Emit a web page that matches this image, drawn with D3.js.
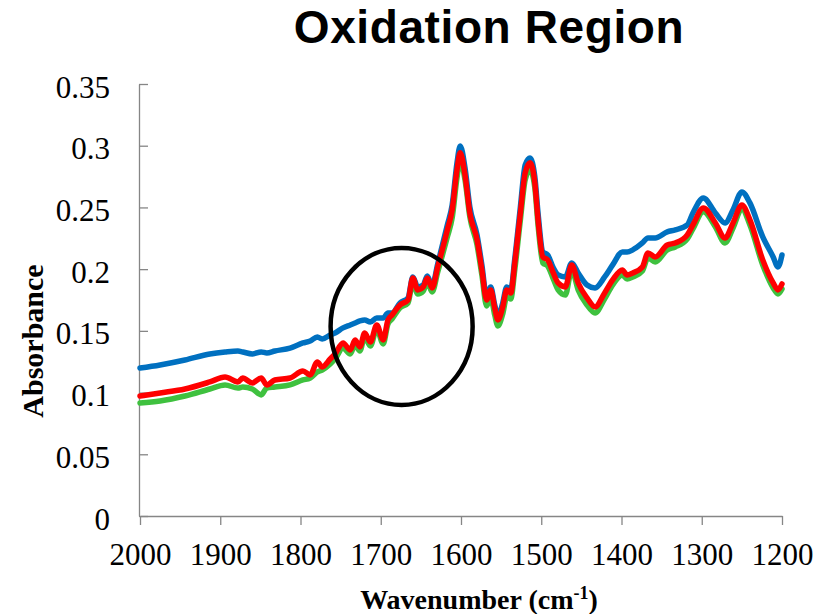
<!DOCTYPE html>
<html>
<head>
<meta charset="utf-8">
<script src="https://cdn.jsdelivr.net/npm/d3@7"></script>
<style>
  body { margin: 0; background: #fff; }
  svg { display: block; }
</style>
</head>
<body>
<div id="chart"></div>
<script>
// wavenumbers (cm-1), shared by all three spectra
const wavenumbers = [2000, 1975, 1944, 1913, 1894, 1878, 1872, 1860, 1849, 1842, 1832, 1813, 1797, 1788, 1779, 1773, 1763, 1757,
  1747, 1738, 1732, 1726, 1720, 1713, 1705, 1697, 1691, 1686, 1676, 1666, 1660, 1654, 1647, 1642, 1636, 1629,
  1617, 1611, 1605, 1601, 1595, 1589, 1580, 1574, 1568, 1563, 1558, 1554, 1548, 1543, 1538, 1533, 1526, 1520,
  1514, 1508, 1504, 1498, 1492, 1485, 1479, 1470, 1462, 1454, 1443, 1433, 1421, 1411, 1399, 1393, 1386, 1374,
  1367, 1358, 1343, 1333, 1318, 1311, 1298, 1283, 1271, 1261, 1250, 1240, 1224, 1211, 1205, 1200];

const blueSeries = [0.1199, 0.1224, 0.1264, 0.1313, 0.1329, 0.1337, 0.1329, 0.1313, 0.1329, 0.1321, 0.1337, 0.1361, 0.1402, 0.1418, 0.1451, 0.1434, 0.1467, 0.1483,
  0.1524, 0.1548, 0.1564, 0.1580, 0.1588, 0.1572, 0.1605, 0.1605, 0.1645, 0.1645, 0.1726, 0.1767, 0.1937, 0.1856, 0.1872, 0.1945, 0.1864, 0.2042,
  0.2358, 0.2520, 0.2861, 0.2998, 0.2820, 0.2504, 0.2277, 0.2034, 0.1775, 0.1856, 0.1710, 0.1621, 0.1726, 0.1856, 0.1832, 0.2083, 0.2504, 0.2845,
  0.2901, 0.2747, 0.2455, 0.2139, 0.2115, 0.2010, 0.1953, 0.1937, 0.2050, 0.1969, 0.1872, 0.1848, 0.1937, 0.2034, 0.2139, 0.2139, 0.2156, 0.2212,
  0.2253, 0.2253, 0.2302, 0.2318, 0.2358, 0.2455, 0.2577, 0.2455, 0.2374, 0.2480, 0.2626, 0.2537, 0.2261, 0.2099, 0.2018, 0.2115];

const redSeries = [0.0972, 0.0997, 0.1029, 0.1086, 0.1126, 0.1086, 0.1118, 0.1078, 0.1118, 0.1062, 0.1102, 0.1118, 0.1175, 0.1143, 0.1248, 0.1208, 0.1272, 0.1313,
  0.1402, 0.1345, 0.1426, 0.1370, 0.1483, 0.1410, 0.1548, 0.1426, 0.1588, 0.1629, 0.1710, 0.1750, 0.1929, 0.1832, 0.1856, 0.1929, 0.1848, 0.2018,
  0.2318, 0.2480, 0.2804, 0.2942, 0.2763, 0.2455, 0.2237, 0.1994, 0.1750, 0.1832, 0.1686, 0.1588, 0.1694, 0.1832, 0.1807, 0.2050, 0.2455, 0.2780,
  0.2861, 0.2699, 0.2399, 0.2099, 0.2075, 0.1969, 0.1888, 0.1856, 0.2034, 0.1888, 0.1767, 0.1694, 0.1807, 0.1913, 0.1994, 0.1953, 0.1969, 0.2018,
  0.2131, 0.2099, 0.2196, 0.2212, 0.2277, 0.2358, 0.2496, 0.2374, 0.2253, 0.2374, 0.2520, 0.2399, 0.2075, 0.1888, 0.1832, 0.1880];

const greenSeries = [0.0916, 0.0932, 0.0972, 0.1029, 0.1062, 0.1037, 0.1045, 0.1029, 0.0981, 0.1037, 0.1045, 0.1062, 0.1102, 0.1118, 0.1167, 0.1183, 0.1232, 0.1272,
  0.1361, 0.1313, 0.1386, 0.1337, 0.1451, 0.1378, 0.1515, 0.1394, 0.1556, 0.1596, 0.1686, 0.1726, 0.1896, 0.1799, 0.1823, 0.1896, 0.1815, 0.1977,
  0.2261, 0.2415, 0.2739, 0.2885, 0.2723, 0.2423, 0.2196, 0.1953, 0.1702, 0.1775, 0.1629, 0.1540, 0.1637, 0.1775, 0.1759, 0.1994, 0.2399, 0.2723,
  0.2804, 0.2658, 0.2358, 0.2050, 0.2026, 0.1921, 0.1832, 0.1791, 0.1994, 0.1832, 0.1710, 0.1645, 0.1759, 0.1872, 0.1953, 0.1921, 0.1937, 0.1985,
  0.2091, 0.2058, 0.2156, 0.2180, 0.2245, 0.2326, 0.2464, 0.2342, 0.2212, 0.2334, 0.2488, 0.2358, 0.2034, 0.1848, 0.1799, 0.1840];

const xTicks = [2000, 1900, 1800, 1700, 1600, 1500, 1400, 1300, 1200];
const yTicks = [0, 0.05, 0.1, 0.15, 0.2, 0.25, 0.3, 0.35];

// the hand drawn circle around 1750-1600 (centre and radii in data units)
const circleNote = { wn: 1674, abs: 0.1536, rWn: 88.5, rAbs: 0.0636 };

const W = 825, H = 614;
const margin = { top: 84, right: 43, bottom: 98, left: 140 };

const svg = d3.select("#chart")
  .append("svg")
  .attr("width", W)
  .attr("height", H);

const x = d3.scaleLinear()
  .domain([2000, 1200])
  .range([margin.left, W - margin.right]);

const y = d3.scaleLinear()
  .domain([0, 0.35])
  .range([H - margin.bottom, margin.top]);

const axisColor = "#868686";
const serif = "'Liberation Serif', 'Times New Roman', serif";

// x axis, ticks pointing down
const gx = svg.append("g")
  .attr("transform", "translate(0," + y(0) + ")")
  .call(d3.axisBottom(x).tickValues(xTicks).tickFormat(d3.format("d"))
    .tickSizeInner(9).tickSizeOuter(0).tickPadding(18));
gx.select(".domain").attr("stroke", axisColor).attr("stroke-width", 1.3);
gx.selectAll(".tick line").attr("stroke", axisColor).attr("stroke-width", 1.3);
gx.selectAll(".tick text")
  .attr("fill", "#000")
  .style("font-family", serif)
  .style("font-size", "31px");

// y axis, ticks pointing into the plot
const gy = svg.append("g")
  .attr("transform", "translate(" + (x(2000) - 1) + ",0)")
  .call(d3.axisLeft(y).tickValues(yTicks).tickFormat(d => String(d))
    .tickSizeInner(-9).tickSizeOuter(0).tickPadding(29));
gy.select(".domain").attr("stroke", axisColor).attr("stroke-width", 1.3);
gy.selectAll(".tick line").attr("stroke", axisColor).attr("stroke-width", 1.3);
gy.selectAll(".tick text")
  .attr("fill", "#000")
  .attr("dy", "0.42em")
  .style("font-family", serif)
  .style("font-size", "31px");

// spectra
const line = d3.line()
  .x((d, i) => x(wavenumbers[i]))
  .y(d => y(d))
  .curve(d3.curveMonotoneX);

const series = [
  { name: "green", values: greenSeries, color: "#3fc13f" },
  { name: "blue", values: blueSeries, color: "#0070c0" },
  { name: "red", values: redSeries, color: "#ff0000" }
];

svg.append("g")
  .selectAll("path")
  .data(series)
  .join("path")
  .attr("d", d => line(d.values))
  .attr("fill", "none")
  .attr("stroke", d => d.color)
  .attr("stroke-width", 5.5)
  .attr("stroke-linejoin", "round")
  .attr("stroke-linecap", "round");

// circle annotation
svg.append("ellipse")
  .attr("cx", x(circleNote.wn))
  .attr("cy", y(circleNote.abs))
  .attr("rx", x(2000 - circleNote.rWn) - x(2000))
  .attr("ry", y(0) - y(circleNote.rAbs))
  .attr("fill", "none")
  .attr("stroke", "#000")
  .attr("stroke-width", 4.5);

// title
svg.append("text")
  .attr("x", 489)
  .attr("y", 43)
  .attr("text-anchor", "middle")
  .style("font-family", "'Liberation Sans', Arial, sans-serif")
  .style("font-weight", "bold")
  .style("font-size", "46px")
  .style("letter-spacing", "0.6px")
  .text("Oxidation Region");

// axis titles
svg.append("text")
  .attr("transform", "translate(43,341) rotate(-90)")
  .attr("text-anchor", "middle")
  .style("font-family", serif)
  .style("font-weight", "bold")
  .style("font-size", "30px")
  .text("Absorbance");

const xt = svg.append("text")
  .attr("x", 479)
  .attr("y", 609)
  .attr("text-anchor", "middle")
  .style("font-family", serif)
  .style("font-weight", "bold")
  .style("font-size", "28px");
xt.append("tspan").text("Wavenumber (cm");
xt.append("tspan").attr("dy", -10).style("font-size", "18px").text("-1");
xt.append("tspan").attr("dy", 10).text(")");
</script>
</body>
</html>
